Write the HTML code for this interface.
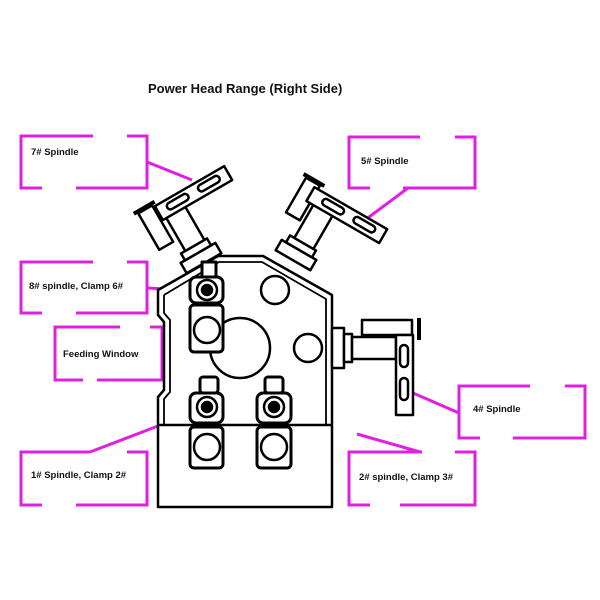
<!DOCTYPE html>
<html><head><meta charset="utf-8"><style>
html,body{margin:0;padding:0;background:#fff;}
svg{display:block}
text{font-family:"Liberation Sans",sans-serif;font-weight:bold;fill:#111}
</style></head><body>
<svg width="600" height="600" viewBox="0 0 600 600" xmlns="http://www.w3.org/2000/svg">
<rect width="600" height="600" fill="#fff"/>
<text x="148" y="93" font-size="13">Power Head Range (Right Side)</text>

<g stroke="#e020e0" stroke-width="3" fill="none">
 <!-- 7# -->
 <polyline points="93,136 21,136 21,188 42,188"/><polyline points="127,136 147,136 147,188 76,188"/>
 <line x1="147" y1="162" x2="192" y2="180"/>
 <!-- 8# -->
 <polyline points="93,262 21,262 21,313 42,313"/><polyline points="127,262 147,262 147,313 76,313"/>
 <line x1="147" y1="288" x2="205" y2="291"/>
 <!-- Feeding -->
 <polyline points="120,327 55,327 55,380 83,380"/><polyline points="150,327 162,327 162,380 97,380"/>
 <!-- 1# -->
 <polyline points="90,452 21,452 21,505 42,505"/><polyline points="127,452 147,452 147,505 76,505"/>
 <line x1="90" y1="452" x2="205" y2="408"/>
 <!-- 5# -->
 <polyline points="420,137 349,137 349,188 370,188"/><polyline points="455,137 475,137 475,188 403,188"/>
 <line x1="408" y1="188" x2="365" y2="220"/>
 <!-- 4# -->
 <polyline points="530,386 459,386 459,438 480,438"/><polyline points="565,386 585,386 585,438 513,438"/>
 <line x1="459" y1="413" x2="413" y2="393"/>
 <!-- 2# -->
 <polyline points="422,452 349,452 349,505 370,505"/><polyline points="455,452 475,452 475,505 400,505"/>
 <line x1="420" y1="452" x2="357" y2="434"/>
 <line x1="276" y1="407" x2="332" y2="425"/>
</g>
<g font-size="9.5">
 <text x="31" y="155">7# Spindle</text>
 <text x="29" y="289">8# spindle, Clamp 6#</text>
 <text x="63" y="357">Feeding Window</text>
 <text x="31" y="478">1# Spindle, Clamp 2#</text>
 <text x="361" y="164">5# Spindle</text>
 <text x="473" y="412">4# Spindle</text>
 <text x="359" y="480">2# spindle, Clamp 3#</text>
</g>

<g stroke="#000" stroke-width="2.5" fill="none" stroke-linejoin="round">
 <!-- body -->
 <polygon points="158,290 218,256 263,256 332,295 332,507 158,507 158,397 164,390 164,322 158,315" fill="#fff"/>
 <polyline points="164,295 219,262 262,262 326,299 326,425" stroke-width="1.8"/>
 <polyline points="164,295 164,313 170,320 170,392 164,399 164,425" stroke-width="1.8"/>
 <line x1="158" y1="425" x2="332" y2="425"/>
 <circle cx="240" cy="348" r="30"/>
 <circle cx="275" cy="290" r="14"/>
 <circle cx="308" cy="348" r="14"/>

 <!-- left spindle 7# -->
 <g transform="translate(205,265) rotate(-30)">
  <rect x="-20" y="-14" width="40" height="12" fill="#fff"/>
  <rect x="-15" y="-22" width="30" height="8" fill="#fff"/>
  <rect x="-10" y="-62" width="22" height="40" fill="#fff"/>
  <rect x="-32" y="-78" width="16" height="42" fill="#fff"/>
  <line x1="-36" y1="-80" x2="-12" y2="-80" stroke-width="4"/>
  <rect x="-14" y="-76" width="80" height="16" fill="#fff"/>
  <rect x="-4" y="-72" width="24" height="7" rx="3.5"/>
  <rect x="32" y="-72" width="24" height="7" rx="3.5"/>
 </g>
 <!-- right spindle 5# -->
 <g transform="translate(292,262) rotate(30)">
  <rect x="-20" y="-14" width="40" height="12" fill="#fff"/>
  <rect x="-15" y="-22" width="30" height="8" fill="#fff"/>
  <rect x="-10" y="-62" width="22" height="40" fill="#fff"/>
  <rect x="-30" y="-80" width="16" height="40" fill="#fff"/>
  <line x1="-34" y1="-82" x2="-10" y2="-82" stroke-width="4"/>
  <rect x="-18" y="-76" width="84" height="16" fill="#fff"/>
  <rect x="-4" y="-72" width="24" height="7" rx="3.5"/>
  <rect x="32" y="-72" width="24" height="7" rx="3.5"/>
 </g>
 <!-- 4# spindle -->
 <rect x="332" y="328" width="12" height="40" fill="#fff"/>
 <rect x="344" y="334" width="8" height="28" fill="#fff"/>
 <rect x="352" y="337" width="44" height="22" fill="#fff"/>
 <rect x="362" y="320" width="50" height="15" fill="#fff"/>
 <line x1="419" y1="318" x2="419" y2="340" stroke-width="4"/>
 <rect x="396" y="335" width="17" height="80" fill="#fff"/>
 <rect x="400" y="345" width="8" height="22" rx="4"/>
 <rect x="400" y="378" width="8" height="22" rx="4"/>

 <!-- clamps -->
 <g stroke-width="3" fill="#fff">
  <rect x="202" y="262" width="14" height="16"/>
  <rect x="190" y="277" width="33" height="26" rx="6"/>
  <rect x="190" y="305" width="33" height="47" rx="4"/>
  <rect x="200" y="377" width="18" height="16" rx="3"/>
  <rect x="190" y="393" width="33" height="30" rx="6"/>
  <rect x="190" y="427" width="33" height="41" rx="4"/>
  <rect x="265" y="377" width="18" height="16" rx="3"/>
  <rect x="257" y="393" width="34" height="30" rx="6"/>
  <rect x="257" y="427" width="34" height="41" rx="4"/>
 </g>
 <circle cx="207" cy="290" r="10"/><circle cx="207" cy="290" r="5" fill="#000"/>
 <circle cx="207" cy="330" r="13"/>
 <circle cx="207" cy="407" r="10"/><circle cx="207" cy="407" r="5" fill="#000"/>
 <circle cx="207" cy="447" r="13"/>
 <circle cx="274" cy="407" r="10"/><circle cx="274" cy="407" r="5" fill="#000"/>
 <circle cx="274" cy="447" r="13"/>
</g>
</svg>
</body></html>
